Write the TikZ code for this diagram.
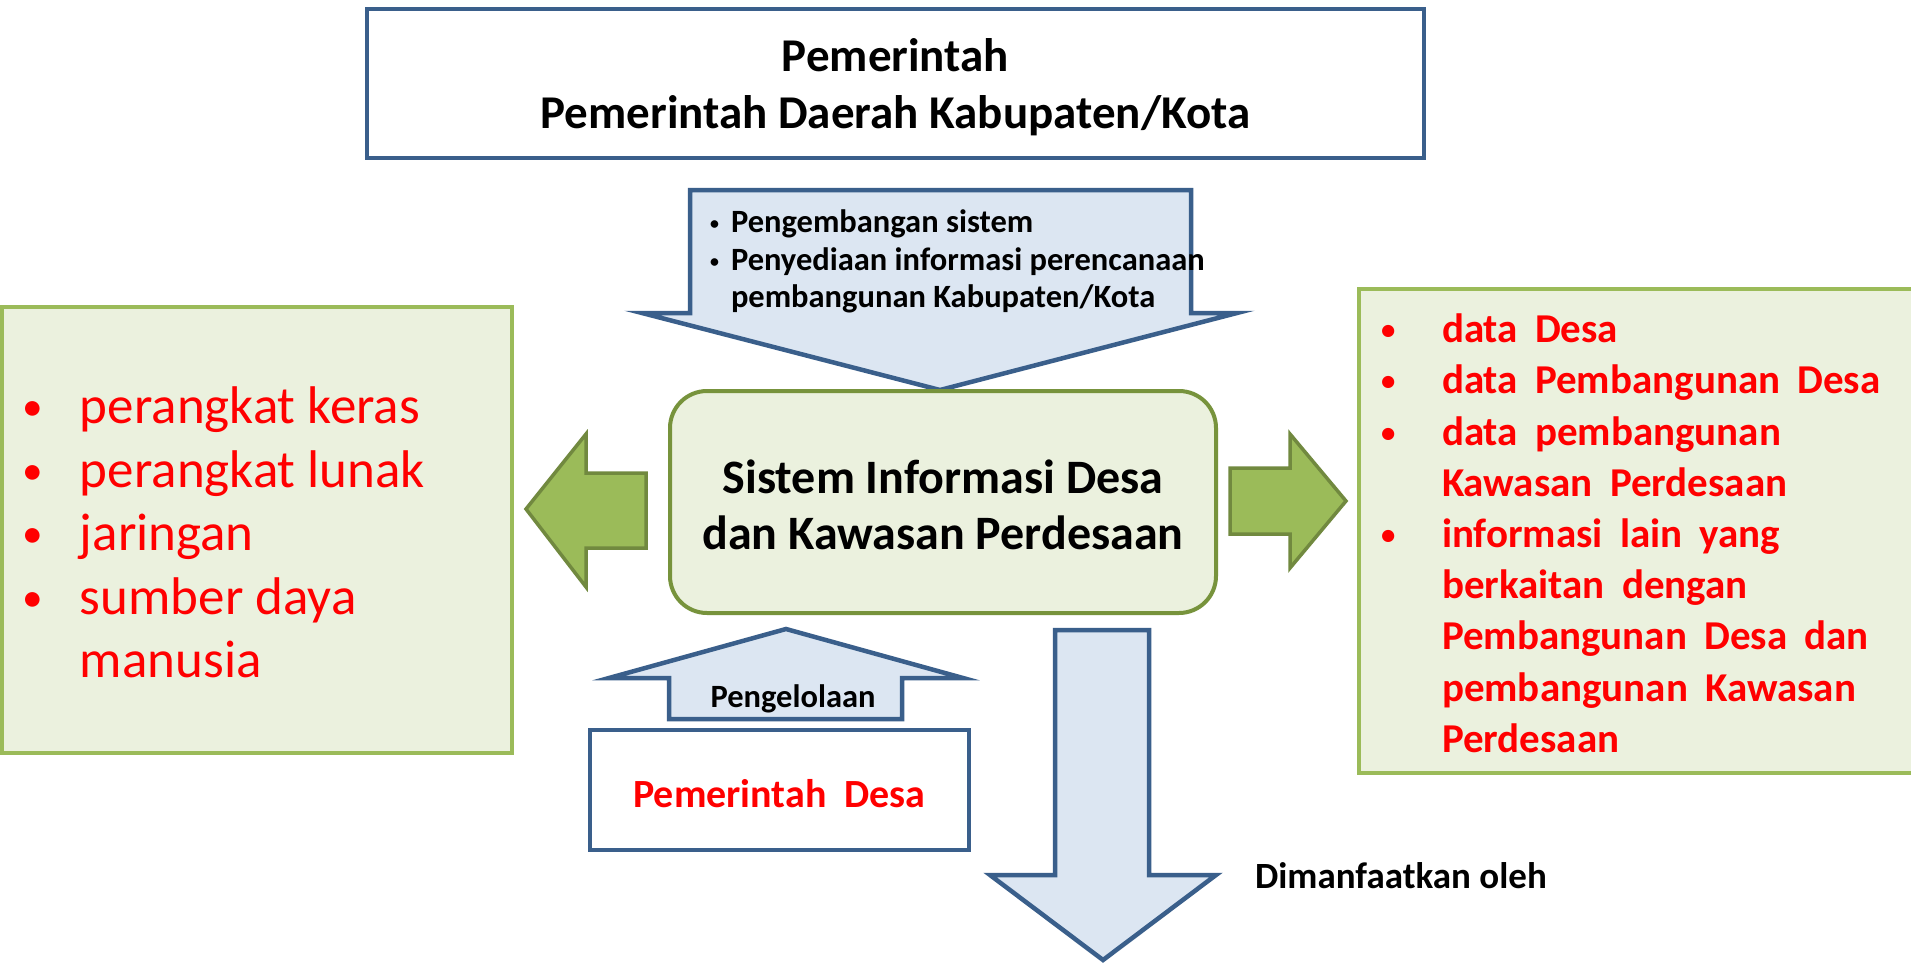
\documentclass[tikz,border=0pt]{standalone}
\usepackage{fontspec}
\usepackage{graphicx}
\setmainfont{Carlito}
\definecolor{bluebd}{HTML}{3A5F8B}
\definecolor{bluefill}{HTML}{DCE6F2}
\definecolor{greenfill}{HTML}{EBF1DE}
\definecolor{greenbd}{HTML}{9BBB59}
\definecolor{olivebd}{HTML}{77933C}
\definecolor{arrowgreen}{HTML}{9BBB59}
\definecolor{arrowbd}{HTML}{71893F}
\definecolor{redtxt}{HTML}{FF0000}
\tikzset{
  bluebox/.style={draw=bluebd, line width=4pt, fill=white, inner sep=0pt},
  bluearrow/.style={draw=bluebd, line width=4.5pt, fill=bluefill, line join=miter},
  greenarrow/.style={draw=arrowbd, line width=3.5pt, fill=arrowgreen, line join=miter},
  greenbox/.style={draw=greenbd, line width=4pt, fill=greenfill},
  txt/.style={inner sep=0pt, outer sep=0pt}
}
% #1 width of bullet column, #2 scale of bullet, #3 raise
\newcommand{\bul}[3]{\makebox[#1][l]{\raisebox{#3}{\scalebox{#2}{•}}}}
\newcommand{\widesp}{\spaceskip=0.42em plus 0.1em\relax}
\begin{document}
\begin{tikzpicture}[x=1pt,y=-1pt]
\useasboundingbox (0,0) rectangle (1911,963);
\fill[white] (0,0) rectangle (1911,963);

% top box
\node[bluebox, minimum width=1057pt, minimum height=149pt] (top) at (895.5,83.5) {};
\node[txt, align=center, font=\fontsize{47}{57}\selectfont\bfseries] (toplabel) at (895.5,87.5)
  {Pemerintah\\Pemerintah Daerah Kabupaten/Kota};

% top down arrow
\draw[bluearrow] (690,190) -- (1191,190) -- (1191,313) -- (1237,313) -- (940,390)
  -- (642,313) -- (690,313) -- cycle;
\node[txt, anchor=north west, align=left, font=\fontsize{32.5}{37.5}\selectfont\bfseries]
  (toptxt) at (710,210)
  {\bul{21pt}{0.55}{3pt}Pengembangan sistem\\\bul{21pt}{0.55}{3pt}Penyediaan informasi perencanaan\\\hspace*{21pt}pembangunan Kabupaten/Kota};

% left box
\draw[greenbox] (2,307) rectangle (512,753);
\node[txt, anchor=north west, align=left, text=redtxt, font=\fontsize{53}{63.5}\selectfont]
  (lefttxt) at (22,387)
  {\bul{58pt}{0.78}{3pt}perangkat keras\\\bul{58pt}{0.78}{3pt}perangkat lunak\\\bul{58pt}{0.78}{3pt}jaringan\\\bul{58pt}{0.78}{3pt}sumber daya\\\hspace*{58pt}manusia};

% right box
\draw[greenbox] (1930,289) -- (1359,289) -- (1359,773) -- (1930,773);
\node[txt, anchor=north west, align=left, text=redtxt,
      font=\fontsize{41}{51.2}\selectfont\bfseries]
  (righttxt) at (1381,314)
  {\widesp\bul{61pt}{0.7}{3pt}data Desa\\\widesp\bul{61pt}{0.7}{3pt}data Pembangunan Desa\\\widesp\bul{61pt}{0.7}{3pt}data pembangunan\\\widesp\hspace*{61pt}Kawasan Perdesaan\\\widesp\bul{61pt}{0.7}{3pt}informasi lain yang\\\widesp\hspace*{61pt}berkaitan dengan\\\widesp\hspace*{61pt}Pembangunan Desa dan\\\widesp\hspace*{61pt}pembangunan Kawasan\\\widesp\hspace*{61pt}Perdesaan};

% central rounded box
\node[draw=olivebd, line width=4pt, fill=greenfill, rounded corners=37pt,
      minimum width=546pt, minimum height=222pt] (sid) at (943,502) {};
\node[txt, align=center, font=\fontsize{48}{56}\selectfont\bfseries] (sidlabel) at (943,505)
  {Sistem Informasi Desa\\dan Kawasan Perdesaan};

% left green arrow
\draw[greenarrow] (646,473) -- (586,473) -- (586,434) -- (526,509) -- (586,587)
  -- (586,548) -- (646,548) -- cycle;
% right green arrow
\draw[greenarrow] (1230,468) -- (1290,468) -- (1290,434) -- (1346,501) -- (1290,568)
  -- (1290,534) -- (1230,534) -- cycle;

% Pengelolaan up arrow
\draw[bluearrow] (669,719) -- (669,678) -- (609,678) -- (786,629) -- (963,678)
  -- (902,678) -- (902,719) -- cycle;
\node[txt, font=\fontsize{32.5}{38}\selectfont\bfseries] (peng) at (793,699) {Pengelolaan};

% Pemerintah Desa box
\node[bluebox, minimum width=379pt, minimum height=120pt] (pdesa) at (779.5,790) {};
\node[txt, text=redtxt, font=\fontsize{40}{48}\selectfont\bfseries] (pdesalabel) at (779.5,794)
  {Pemerintah\hspace{0.45em}Desa};

% down arrow
\draw[bluearrow] (1055,630) -- (1149,630) -- (1149,875) -- (1216,875) -- (1103,960)
  -- (990,875) -- (1055,875) -- cycle;
\node[txt, anchor=west, font=\fontsize{37}{44}\selectfont\bfseries] (dim) at (1255,876)
  {Dimanfaatkan oleh};
\end{tikzpicture}
\end{document}
